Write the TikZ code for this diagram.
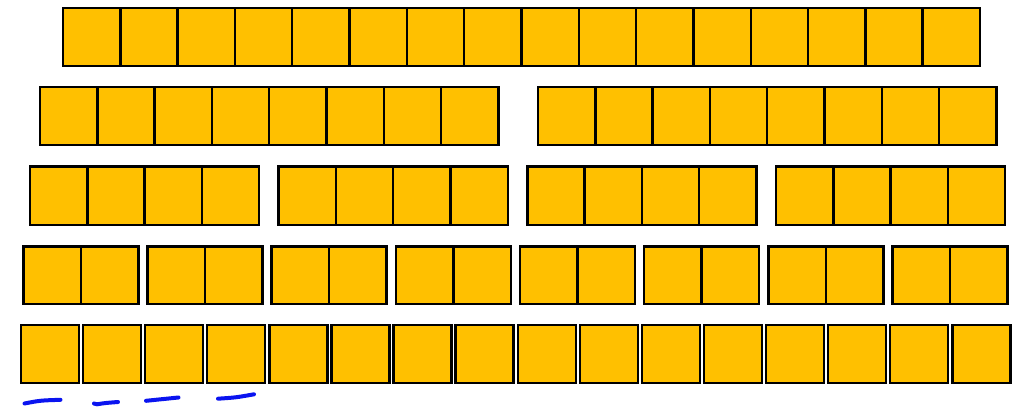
\documentclass[tikz,border=0pt]{standalone}
\begin{document}
\begin{tikzpicture}[x=1pt,y=-1pt,
  cellbox/.style={draw=black,line width=2.4pt,fill=cellfill,inner sep=0pt,outer sep=0pt,anchor=north west},
  mark stroke/.style={draw=strokeblue,line width=4pt,line cap=round}]
\definecolor{cellfill}{HTML}{FFC000}
\definecolor{strokeblue}{HTML}{0A14F0}
\useasboundingbox (0,0) rectangle (1025,411);
% Row 1: 16 cells
\foreach \i in {0,...,15}
  \node[cellbox,minimum width=57.31pt,minimum height=58pt] (ra\i) at ({63+57.31*\i},8) {};
% Row 2: 2 groups of 8
\foreach \g/\s in {0/40,1/538}
  \foreach \i in {0,...,7}
    \node[cellbox,minimum width=57.3pt,minimum height=58pt] (rb\g-\i) at ({\s+57.3*\i},87) {};
% Row 3: 4 groups of 4
\foreach \g in {0,...,3}
  \foreach \i in {0,...,3}
    \node[cellbox,minimum width=57.3pt,minimum height=58.5pt] (rc\g-\i) at ({30+248.67*\g+57.3*\i},166.5) {};
% Row 4: 8 groups of 2
\foreach \g in {0,...,7}
  \foreach \i in {0,1}
    \node[cellbox,minimum width=57.5pt,minimum height=57.5pt] (rd\g-\i) at ({23.3+124.17*\g+57.5*\i},246.5) {};
% Row 5: 16 single cells
\foreach \i in {0,...,15}
  \node[cellbox,minimum width=58pt,minimum height=58pt] (re\i) at ({21+62.09*\i},325) {};
% Blue hand-drawn dashes
\draw[mark stroke] (24.5,403.5) .. controls (40,400.5) .. (60.5,399.8);
\draw[mark stroke] (94,403.5) -- (97,404.3) .. controls (105,403) .. (118,402);
\draw[mark stroke] (146,400.8) .. controls (162,399.5) .. (178.5,397.5);
\draw[mark stroke] (218,398.7) .. controls (236,397.5) .. (254,394.3);
\end{tikzpicture}
\end{document}
